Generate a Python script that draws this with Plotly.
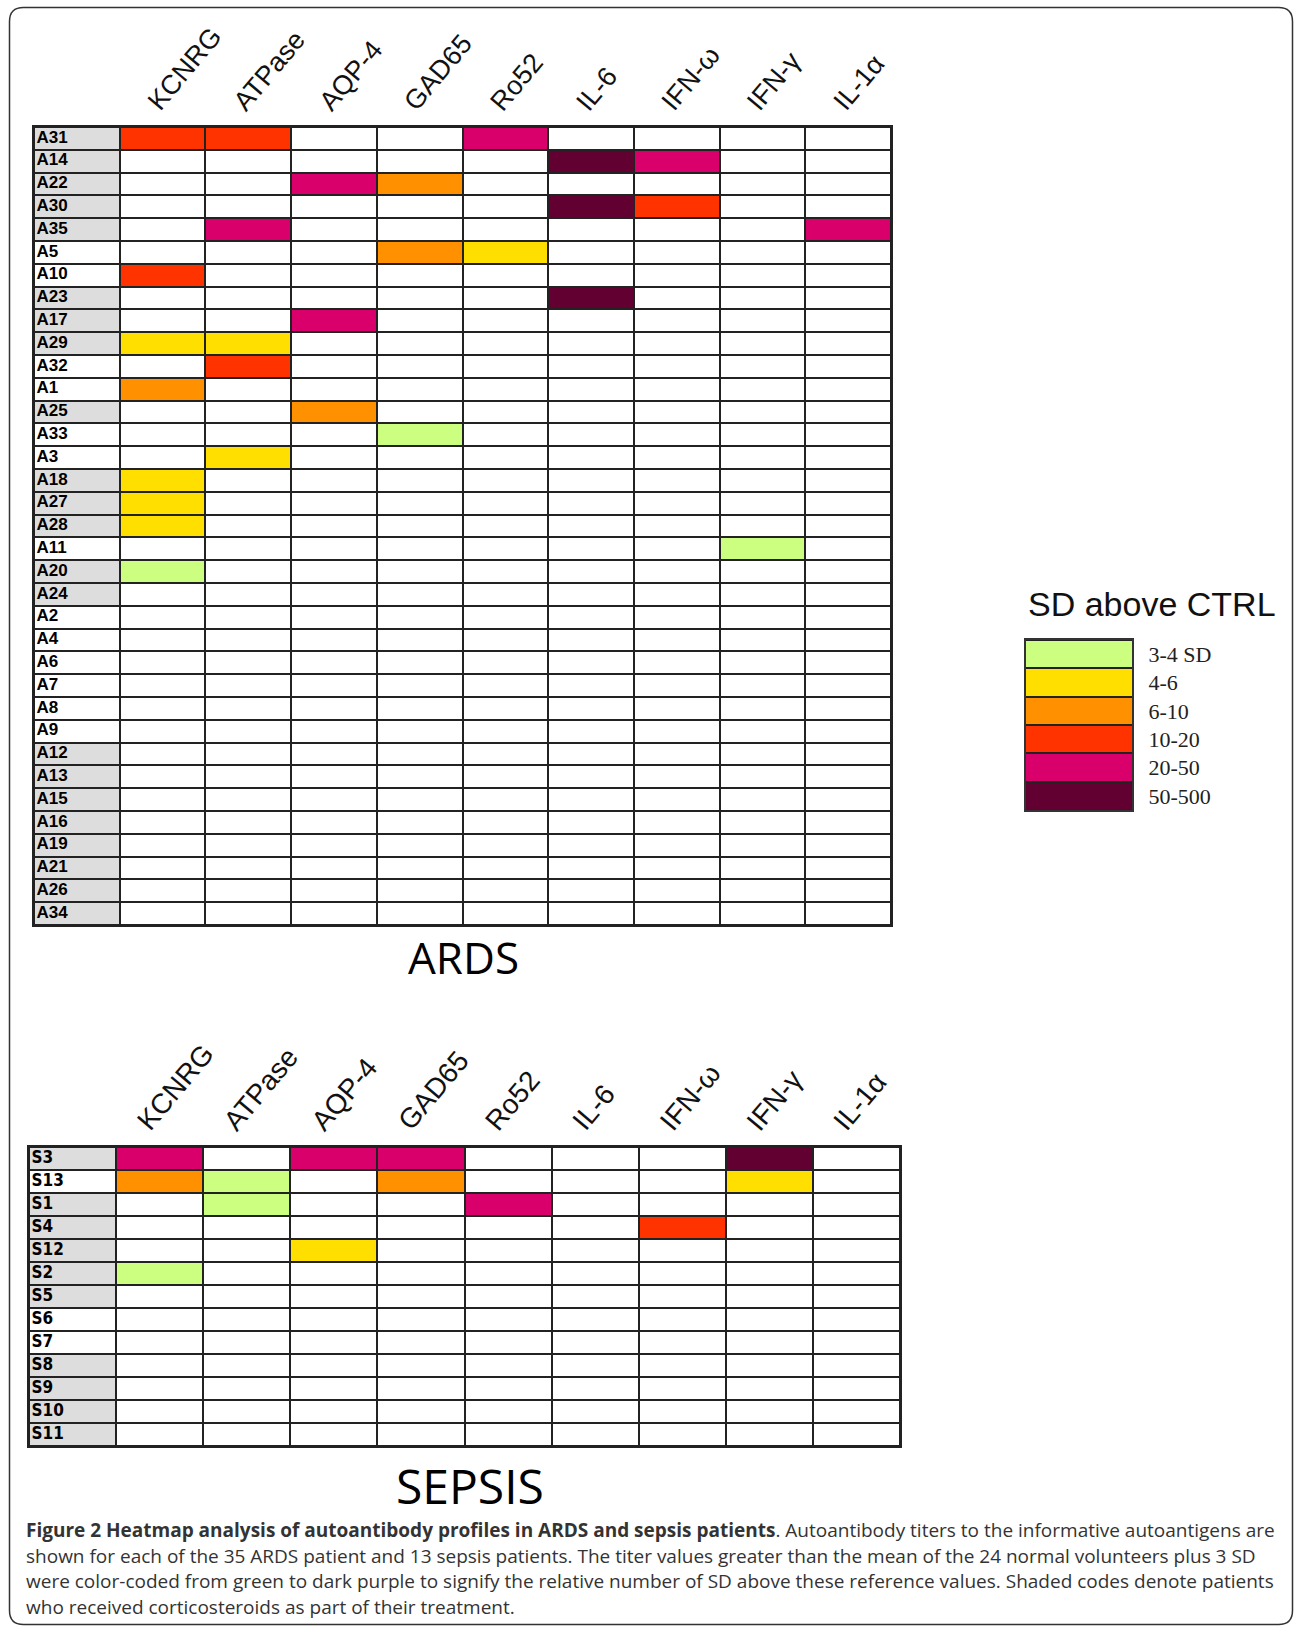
import plotly.graph_objects as go

# ---------------------------------------------------------------- data
antigens = ["KCNRG", "ATPase", "AQP-4", "GAD65", "Ro52", "IL-6", "IFN-ω", "IFN-γ", "IL-1α"]

# SD bins (level 1..6); 0 = below threshold
level_labels = ["3-4 SD", "4-6", "6-10", "10-20", "20-50", "50-500"]
level_colors = ["#CCFF7F", "#FFDF00", "#FF9100", "#FF3300", "#D9006B", "#620032"]
blank_color = "#FFFFFF"
steroid_color = "#DDDDDD"

# ARDS patients (row order as plotted) and corticosteroid flag
ards_patients = ["A31", "A14", "A22", "A30", "A35", "A5", "A10", "A23", "A17", "A29",
                 "A32", "A1", "A25", "A33", "A3", "A18", "A27", "A28", "A11", "A20",
                 "A24", "A2", "A4", "A6", "A7", "A8", "A9", "A12", "A13", "A15",
                 "A16", "A19", "A21", "A26", "A34"]
ards_steroid = [1, 1, 1, 1, 1, 0, 0, 1, 1, 1,
                0, 0, 1, 0, 0, 1, 1, 1, 0, 1,
                1, 0, 0, 0, 0, 0, 0, 1, 1, 1,
                1, 1, 1, 1, 1]
ards_kcnrg = [4, 0, 0, 0, 0, 0, 4, 0, 0, 2, 0, 3, 0, 0, 0, 2, 2, 2, 0, 1,
              0, 0, 0, 0, 0, 0, 0, 0, 0, 0, 0, 0, 0, 0, 0]
ards_atpase = [4, 0, 0, 0, 5, 0, 0, 0, 0, 2, 4, 0, 0, 0, 2, 0, 0, 0, 0, 0,
               0, 0, 0, 0, 0, 0, 0, 0, 0, 0, 0, 0, 0, 0, 0]
ards_aqp4 = [0, 0, 5, 0, 0, 0, 0, 0, 5, 0, 0, 0, 3, 0, 0, 0, 0, 0, 0, 0,
             0, 0, 0, 0, 0, 0, 0, 0, 0, 0, 0, 0, 0, 0, 0]
ards_gad65 = [0, 0, 3, 0, 0, 3, 0, 0, 0, 0, 0, 0, 0, 1, 0, 0, 0, 0, 0, 0,
              0, 0, 0, 0, 0, 0, 0, 0, 0, 0, 0, 0, 0, 0, 0]
ards_ro52 = [5, 0, 0, 0, 0, 2, 0, 0, 0, 0, 0, 0, 0, 0, 0, 0, 0, 0, 0, 0,
             0, 0, 0, 0, 0, 0, 0, 0, 0, 0, 0, 0, 0, 0, 0]
ards_il6 = [0, 6, 0, 6, 0, 0, 0, 6, 0, 0, 0, 0, 0, 0, 0, 0, 0, 0, 0, 0,
            0, 0, 0, 0, 0, 0, 0, 0, 0, 0, 0, 0, 0, 0, 0]
ards_ifnw = [0, 5, 0, 4, 0, 0, 0, 0, 0, 0, 0, 0, 0, 0, 0, 0, 0, 0, 0, 0,
             0, 0, 0, 0, 0, 0, 0, 0, 0, 0, 0, 0, 0, 0, 0]
ards_ifng = [0, 0, 0, 0, 0, 0, 0, 0, 0, 0, 0, 0, 0, 0, 0, 0, 0, 0, 1, 0,
             0, 0, 0, 0, 0, 0, 0, 0, 0, 0, 0, 0, 0, 0, 0]
ards_il1a = [0, 0, 0, 0, 5, 0, 0, 0, 0, 0, 0, 0, 0, 0, 0, 0, 0, 0, 0, 0,
             0, 0, 0, 0, 0, 0, 0, 0, 0, 0, 0, 0, 0, 0, 0]

# Sepsis patients
sepsis_patients = ["S3", "S13", "S1", "S4", "S12", "S2", "S5", "S6", "S7", "S8", "S9", "S10", "S11"]
sepsis_steroid = [1, 0, 1, 1, 1, 1, 1, 0, 0, 1, 1, 1, 1]
sepsis_kcnrg = [5, 3, 0, 0, 0, 1, 0, 0, 0, 0, 0, 0, 0]
sepsis_atpase = [0, 1, 1, 0, 0, 0, 0, 0, 0, 0, 0, 0, 0]
sepsis_aqp4 = [5, 0, 0, 0, 2, 0, 0, 0, 0, 0, 0, 0, 0]
sepsis_gad65 = [5, 3, 0, 0, 0, 0, 0, 0, 0, 0, 0, 0, 0]
sepsis_ro52 = [0, 0, 5, 0, 0, 0, 0, 0, 0, 0, 0, 0, 0]
sepsis_il6 = [0, 0, 0, 0, 0, 0, 0, 0, 0, 0, 0, 0, 0]
sepsis_ifnw = [0, 0, 0, 4, 0, 0, 0, 0, 0, 0, 0, 0, 0]
sepsis_ifng = [6, 2, 0, 0, 0, 0, 0, 0, 0, 0, 0, 0, 0]
sepsis_il1a = [0, 0, 0, 0, 0, 0, 0, 0, 0, 0, 0, 0, 0]

caption_lines = [
    "<b>Figure 2 Heatmap analysis of autoantibody profiles in ARDS and sepsis patients</b>. "
    "Autoantibody titers to the informative autoantigens are",
    "shown for each of the 35 ARDS patient and 13 sepsis patients. The titer values greater "
    "than the mean of the 24 normal volunteers plus 3 SD",
    "were color-coded from green to dark purple to signify the relative number of SD above "
    "these reference values. Shaded codes denote patients",
    "who received corticosteroids as part of their treatment.",
]

# ---------------------------------------------------------------- layout helpers
W, H = 1295, 1627


def px_x(v):
    return v / W


def px_y(v):
    return 1 - v / H


STEROID_CODE = 7
colorscale = [[0.0, blank_color]]
for k, c in enumerate(level_colors, start=1):
    colorscale.append([k / STEROID_CODE, c])
colorscale.append([1.0, steroid_color])

GRID = "#222222"
LABEL_FONT = "Liberation Sans, Arial, sans-serif"
NARROW_FONT = "Liberation Sans Narrow, Arial Narrow, DejaVu Sans Condensed, sans-serif"


def build_matrix(steroid, columns):
    # first column is the patient-label cell (grey when treated with corticosteroids)
    rows = []
    for r in range(len(steroid)):
        row = [STEROID_CODE if steroid[r] else 0]
        row += [col[r] for col in columns]
        rows.append(row)
    return rows


fig = go.Figure()


def add_panel(idx, patients, steroid, columns, xdom, ydom, label_font, label_size):
    xa = "x" if idx == 1 else f"x{idx}"
    ya = "y" if idx == 1 else f"y{idx}"
    z = build_matrix(steroid, columns)
    fig.add_trace(go.Heatmap(
        z=z, x=list(range(-1, len(antigens))), y=list(range(len(patients))),
        colorscale=colorscale, zmin=0, zmax=STEROID_CODE, showscale=False,
        xgap=2, ygap=2, hoverinfo="skip", xaxis=xa, yaxis=ya,
    ))
    fig.add_trace(go.Scatter(
        x=[-1.47] * len(patients), y=list(range(len(patients))), mode="text",
        text=patients, textposition="middle right", cliponaxis=False,
        textfont=dict(family=label_font, size=label_size, color="#000000", weight="bold"),
        hoverinfo="skip", showlegend=False, xaxis=xa, yaxis=ya,
    ))
    ax_common = dict(showgrid=False, zeroline=False, showticklabels=False, ticks="",
                     showline=True, mirror=True, linecolor=GRID, linewidth=2)
    key = "" if idx == 1 else str(idx)
    fig.layout["xaxis" + key] = dict(domain=xdom, range=[-1.5, len(antigens) - 0.5],
                                     anchor=ya, **ax_common)
    fig.layout["yaxis" + key] = dict(domain=ydom, range=[len(patients) - 0.5, -0.5],
                                     anchor=xa, **ax_common)
    return xa


# ARDS table
ards_cols = [ards_kcnrg, ards_atpase, ards_aqp4, ards_gad65, ards_ro52,
             ards_il6, ards_ifnw, ards_ifng, ards_il1a]
ards_top = 127
add_panel(1, ards_patients, ards_steroid, ards_cols,
          [px_x(34), px_x(891)], [px_y(925), px_y(ards_top)], LABEL_FONT, 17)

# Sepsis table
sepsis_cols = [sepsis_kcnrg, sepsis_atpase, sepsis_aqp4, sepsis_gad65, sepsis_ro52,
               sepsis_il6, sepsis_ifnw, sepsis_ifng, sepsis_il1a]
sepsis_top = 1147
add_panel(2, sepsis_patients, sepsis_steroid, sepsis_cols,
          [px_x(29), px_x(900)], [px_y(1446), px_y(sepsis_top)], NARROW_FONT, 17)

# Legend as a one-column heatmap with labels on the right axis
fig.add_trace(go.Heatmap(
    z=[[k] for k in range(1, len(level_labels) + 1)], x=[0], y=list(range(len(level_labels))),
    colorscale=colorscale, zmin=0, zmax=STEROID_CODE, showscale=False,
    xgap=0, ygap=2, hoverinfo="skip", xaxis="x3", yaxis="y3",
))
fig.layout["xaxis3"] = dict(domain=[px_x(1026), px_x(1132)], range=[-0.5, 0.5], anchor="y3",
                            showgrid=False, zeroline=False, showticklabels=False, ticks="",
                            showline=True, mirror=True, linecolor="#333333", linewidth=2)
fig.layout["yaxis3"] = dict(domain=[px_y(810), px_y(640)], range=[len(level_labels) - 0.5, -0.5],
                            anchor="x3", side="right", showgrid=False, zeroline=False, ticks="",
                            tickvals=list(range(len(level_labels))), ticktext=level_labels,
                            tickfont=dict(family="Liberation Serif, Times New Roman, serif",
                                          size=22, color="#222222"),
                            ticklabelstandoff=10,
                            showline=True, mirror=True, linecolor="#333333", linewidth=2)

annotations = []

# rotated antigen headers above each table
for xa, top, shift, size in (("x", ards_top, 19, 27), ("x2", sepsis_top, 12, 28)):
    for i, name in enumerate(antigens):
        annotations.append(dict(
            x=i - 0.5, xref=xa, y=px_y(top), yref="paper", xshift=shift, yshift=8,
            text=name, textangle=-50, showarrow=False, xanchor="left", yanchor="bottom",
            font=dict(family=LABEL_FONT, size=size, color="#111111"),
        ))

# panel titles
annotations.append(dict(x=px_x(463), y=px_y(957), xref="paper", yref="paper", text="ARDS",
                        showarrow=False, xanchor="center", yanchor="middle",
                        font=dict(family="Open Sans, sans-serif", size=44, color="#000000")))
annotations.append(dict(x=px_x(470), y=px_y(1485), xref="paper", yref="paper", text="SEPSIS",
                        showarrow=False, xanchor="center", yanchor="middle",
                        font=dict(family="Open Sans, sans-serif", size=48, color="#000000")))

# legend title
annotations.append(dict(x=px_x(1152), y=px_y(604), xref="paper", yref="paper",
                        text="SD above CTRL", showarrow=False, xanchor="center", yanchor="middle",
                        font=dict(family=LABEL_FONT, size=34, color="#111111")))

# caption
for k, line in enumerate(caption_lines):
    annotations.append(dict(x=px_x(24), y=px_y(1530 + 25.7 * k), xref="paper", yref="paper",
                            text=line, showarrow=False, xanchor="left", yanchor="middle",
                            font=dict(family="Open Sans, sans-serif", size=19, color="#333333")))

# rounded outer frame
L, R, T, B, rad = 9.5, 1292.5, 7.5, 1624.5, 14


def pt(x, y):
    return f"{px_x(x):.5f},{px_y(y):.5f}"


frame_path = (
    f"M {pt(L + rad, T)} L {pt(R - rad, T)} Q {pt(R, T)} {pt(R, T + rad)} "
    f"L {pt(R, B - rad)} Q {pt(R, B)} {pt(R - rad, B)} "
    f"L {pt(L + rad, B)} Q {pt(L, B)} {pt(L, B - rad)} "
    f"L {pt(L, T + rad)} Q {pt(L, T)} {pt(L + rad, T)} Z"
)

fig.update_layout(
    width=W, height=H, margin=dict(l=0, r=0, t=0, b=0),
    paper_bgcolor="#FFFFFF", plot_bgcolor=GRID, showlegend=False,
    annotations=annotations,
    shapes=[dict(type="path", path=frame_path, xref="paper", yref="paper",
                 line=dict(color="#333333", width=1.5), fillcolor="rgba(0,0,0,0)")],
)

fig.write_html("out.html")
